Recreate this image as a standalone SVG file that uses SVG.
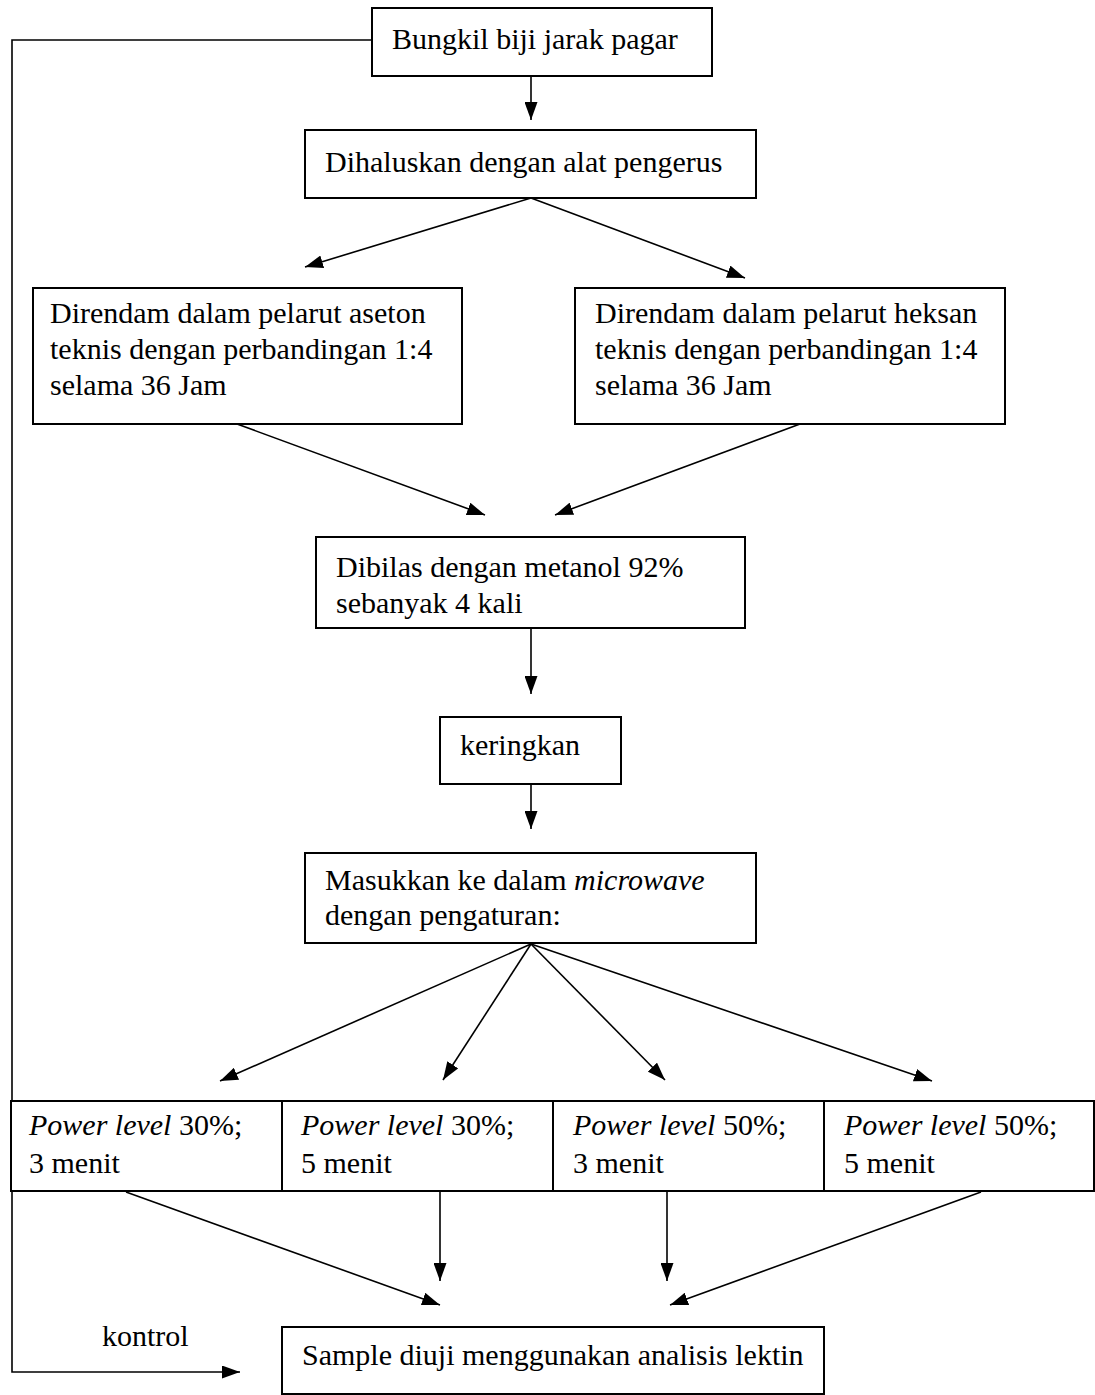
<svg xmlns="http://www.w3.org/2000/svg" width="1095" height="1395" viewBox="0 0 1095 1395">
<style>
.box{fill:#fff;stroke:#000;stroke-width:2}
.t{font-family:"Liberation Serif","Times New Roman",serif;font-size:30px;fill:#000}
.c{fill:none;stroke:#000;stroke-width:1.6}
</style>
<defs>
<marker id="ah" viewBox="0 0 18 13" refX="18" refY="6.5" markerWidth="18" markerHeight="13" markerUnits="userSpaceOnUse" orient="auto">
<path d="M0,0 L18,6.5 L0,13 Z" fill="#000"/>
</marker>
</defs>
<rect width="1095" height="1395" fill="#fff"/>
<g id="connectors">
<polyline class="c" points="372,40 12,40 12,1372 240,1372" marker-end="url(#ah)"/>
<line class="c" x1="531" y1="76" x2="531" y2="120" marker-end="url(#ah)"/>
<line class="c" x1="531" y1="198" x2="305" y2="267" marker-end="url(#ah)"/>
<line class="c" x1="531" y1="198" x2="745" y2="278" marker-end="url(#ah)"/>
<line class="c" x1="237" y1="424" x2="485" y2="515" marker-end="url(#ah)"/>
<line class="c" x1="800" y1="424" x2="555" y2="515" marker-end="url(#ah)"/>
<line class="c" x1="531" y1="628" x2="531" y2="694" marker-end="url(#ah)"/>
<line class="c" x1="531" y1="784" x2="531" y2="829" marker-end="url(#ah)"/>
<line class="c" x1="531" y1="944" x2="220" y2="1081" marker-end="url(#ah)"/>
<line class="c" x1="531" y1="944" x2="443" y2="1080" marker-end="url(#ah)"/>
<line class="c" x1="531" y1="944" x2="665" y2="1080" marker-end="url(#ah)"/>
<line class="c" x1="531" y1="944" x2="932" y2="1081" marker-end="url(#ah)"/>
<line class="c" x1="126" y1="1192" x2="440" y2="1305" marker-end="url(#ah)"/>
<line class="c" x1="440" y1="1192" x2="440" y2="1281" marker-end="url(#ah)"/>
<line class="c" x1="667" y1="1192" x2="667" y2="1281" marker-end="url(#ah)"/>
<line class="c" x1="981" y1="1192" x2="670" y2="1305" marker-end="url(#ah)"/>
</g>
<g id="n1"><rect class="box" x="372" y="8" width="340" height="68"/><text class="t" x="392" y="49">Bungkil biji jarak pagar</text></g>
<g id="n2"><rect class="box" x="305" y="130" width="451" height="68"/><text class="t" x="325" y="172">Dihaluskan dengan alat pengerus</text></g>
<g id="n3"><rect class="box" x="33" y="288" width="429" height="136"/><text class="t" x="50" y="323">Direndam dalam pelarut aseton</text><text class="t" x="50" y="359">teknis dengan perbandingan 1:4</text><text class="t" x="50" y="395">selama 36 Jam</text></g>
<g id="n4"><rect class="box" x="575" y="288" width="430" height="136"/><text class="t" x="595" y="323">Direndam dalam pelarut heksan</text><text class="t" x="595" y="359">teknis dengan perbandingan 1:4</text><text class="t" x="595" y="395">selama 36 Jam</text></g>
<g id="n5"><rect class="box" x="316" y="537" width="429" height="91"/><text class="t" x="336" y="577">Dibilas dengan metanol 92%</text><text class="t" x="336" y="613">sebanyak 4 kali</text></g>
<g id="n6"><rect class="box" x="440" y="717" width="181" height="67"/><text class="t" x="460" y="755">keringkan</text></g>
<g id="n7"><rect class="box" x="305" y="853" width="451" height="90"/><text class="t" x="325" y="890">Masukkan ke dalam <tspan font-style="italic">microwave</tspan></text><text class="t" x="325" y="925">dengan pengaturan:</text></g>
<g id="n8"><rect class="box" x="11" y="1101" width="271" height="90"/><text class="t" x="29" y="1135"><tspan font-style="italic">Power level</tspan> 30%;</text><text class="t" x="29" y="1173">3 menit</text></g>
<g id="n9"><rect class="box" x="282" y="1101" width="271" height="90"/><text class="t" x="301" y="1135"><tspan font-style="italic">Power level</tspan> 30%;</text><text class="t" x="301" y="1173">5 menit</text></g>
<g id="n10"><rect class="box" x="553" y="1101" width="271" height="90"/><text class="t" x="573" y="1135"><tspan font-style="italic">Power level</tspan> 50%;</text><text class="t" x="573" y="1173">3 menit</text></g>
<g id="n11"><rect class="box" x="824" y="1101" width="270" height="90"/><text class="t" x="844" y="1135"><tspan font-style="italic">Power level</tspan> 50%;</text><text class="t" x="844" y="1173">5 menit</text></g>
<g id="n12"><rect class="box" x="282" y="1327" width="542" height="67"/><text class="t" x="302" y="1365">Sample diuji menggunakan analisis lektin</text></g>
<text class="t" x="102" y="1346">kontrol</text>
</svg>
